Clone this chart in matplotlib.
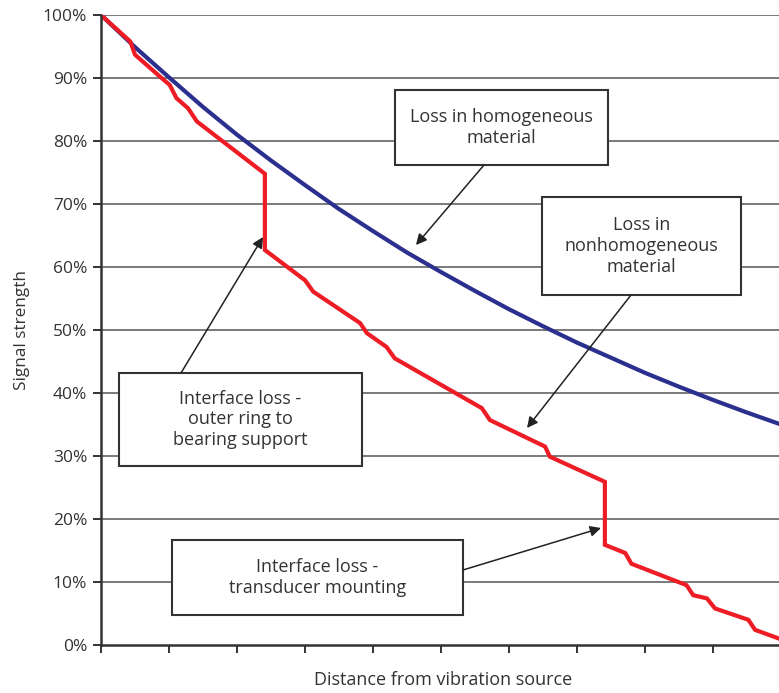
import matplotlib
matplotlib.use("Agg")
import matplotlib.pyplot as plt
from matplotlib.patches import Rectangle

plt.rcParams['font.family'] = ['Open Sans', 'DejaVu Sans']

# Data (distance in arbitrary units 0-10, signal strength in %)
homog_x = [0, 0.5, 1, 1.5, 2, 2.5, 3, 3.5, 4, 4.5, 5, 5.5, 6, 6.5, 7, 7.5, 8, 8.5, 9, 9.5, 10]
homog_y = [100, 94.9, 90.1, 85.4, 81.0, 76.9, 73.0, 69.2, 65.7, 62.3, 59.2, 56.2,
           53.3, 50.6, 48.0, 45.6, 43.2, 41.0, 38.9, 36.9, 35.0]

nonhomog_x = [0, 0.43, 0.50, 0.89, 1.01, 1.11, 1.28, 1.41, 2.41, 2.41, 3.00, 3.12,
              3.81, 3.91, 4.20, 4.32, 5.60, 5.72, 6.53, 6.60, 7.41, 7.41, 7.71,
              7.80, 8.61, 8.71, 8.91, 9.03, 9.52, 9.62, 10.0]
nonhomog_y = [100, 95.8, 93.7, 90.0, 88.9, 86.8, 85.2, 83.1, 74.8, 62.7, 57.9, 56.1,
              51.1, 49.5, 47.3, 45.5, 37.6, 35.7, 31.5, 29.9, 25.9, 15.9, 14.6,
              12.9, 9.5, 7.9, 7.4, 5.8, 4.0, 2.4, 0.9]

y_ticks = [0, 10, 20, 30, 40, 50, 60, 70, 80, 90, 100]
y_tick_labels = [f"{v}%" for v in y_ticks]
x_ticks = [0, 1, 2, 3, 4, 5, 6, 7, 8, 9, 10]

W, H = 779, 693
fig = plt.figure(figsize=(W / 100, H / 100), dpi=100)
ax = fig.add_axes([101 / W, (H - 645) / H, (781 - 101) / W, (645 - 15) / H])

ax.set_xlim(0, 10)
ax.set_ylim(0, 100)

for v in y_ticks[1:]:
    ax.axhline(v, color='#7a7a7a', lw=1.4, zorder=1)

ax.plot(homog_x, homog_y, color='#2b2f8e', lw=3.0, zorder=3,
        solid_capstyle='butt', solid_joinstyle='round')
ax.plot(nonhomog_x, nonhomog_y, color='#ee1c25', lw=3.0, zorder=3,
        solid_joinstyle='miter', solid_capstyle='butt')

ax.spines['top'].set_visible(False)
ax.spines['right'].set_visible(False)
ax.spines['left'].set_color('#333333')
ax.spines['bottom'].set_color('#333333')
ax.spines['left'].set_linewidth(1.8)
ax.spines['bottom'].set_linewidth(1.8)
ax.spines['left'].set_zorder(4)
ax.spines['bottom'].set_zorder(4)

ax.set_yticks(y_ticks)
ax.set_yticklabels(y_tick_labels)
ax.set_xticks(x_ticks)
ax.set_xticklabels([])
ax.tick_params(axis='y', direction='out', length=6, width=1.4, color='#333333',
               labelsize=12.5, labelcolor='#333333', pad=4)
ax.tick_params(axis='x', direction='out', length=6, width=1.4, color='#333333')

ax.set_ylabel('Signal strength', fontsize=12.3, color='#333333')
ax.yaxis.set_label_coords(-0.105, 0.5)
ax.set_xlabel('Distance from vibration source', fontsize=13, color='#333333')
ax.xaxis.set_label_coords((443 - 101) / (781 - 101), -0.042)
ax.xaxis.label.set_verticalalignment('top')

def px2d(px, py):
    return ((px - 101) / 68.0, (645 - py) / 6.3)

def box(x0, y0, x1, y1, lines):
    (dx0, dy0), (dx1, dy1) = px2d(x0, y1), px2d(x1, y0)
    ax.add_patch(Rectangle((dx0, dy0), dx1 - dx0, dy1 - dy0, facecolor='white',
                           edgecolor='#333333', lw=1.5, zorder=5))
    cx, cy = (dx0 + dx1) / 2, (dy0 + dy1) / 2
    ax.text(cx, cy, "\n".join(lines), ha='center', va='center', fontsize=13,
            color='#333333', linespacing=1.2, zorder=6)

def arrow(p0, p1):
    ax.annotate('', xy=px2d(*p1), xytext=px2d(*p0),
                arrowprops=dict(arrowstyle='-|>', color='#222222', lw=1.1,
                                mutation_scale=16, shrinkA=0, shrinkB=0),
                zorder=6)

box(395, 90, 608, 165, ['Loss in homogeneous', 'material'])
box(542, 197, 741, 295, ['Loss in', 'nonhomogeneous', 'material'])
box(119, 373, 362, 466, ['Interface loss -', 'outer ring to', 'bearing support'])
box(172, 540, 463, 615, ['Interface loss -', 'transducer mounting'])

arrow((484, 165), (416, 245))
arrow((631, 295), (527, 428))
arrow((181, 373), (263, 237))
arrow((463, 570), (601, 528))

fig.savefig('out.png', dpi=100)
